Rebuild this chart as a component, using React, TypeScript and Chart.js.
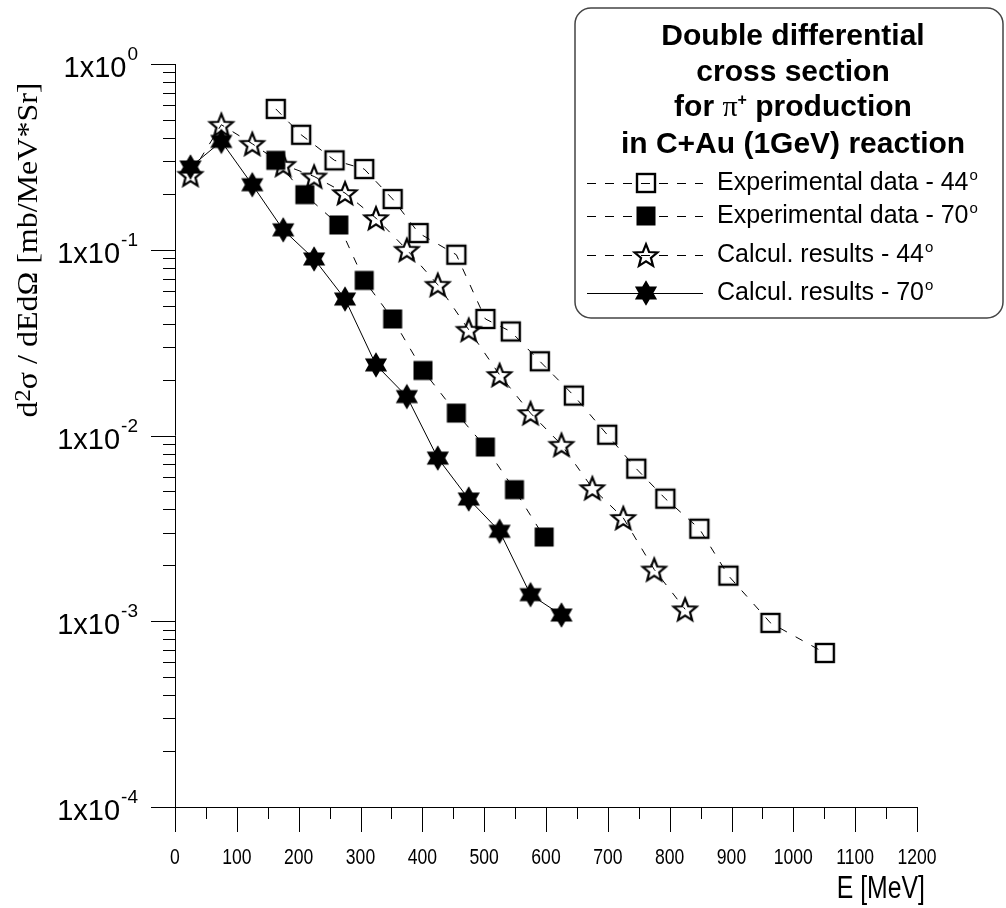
import React, { useEffect, useRef } from 'react';
import { Chart, registerables } from 'chart.js';
Chart.register(...registerables);

// ---------- data ----------
const exp44E = [163, 204, 258, 306, 352, 394, 455, 502, 543, 590, 645, 699, 746, 793, 848, 895, 963, 1051];
const exp44V = [0.573, 0.416, 0.303, 0.272, 0.1875, 0.123, 0.094, 0.0424, 0.0363, 0.0251, 0.0164, 0.0101, 0.00663, 0.00457, 0.00315, 0.00176, 0.00098, 0.000675];
const exp70E = [163, 210, 265, 306, 352, 401, 455, 502, 549, 597];
const exp70V = [0.303, 0.198, 0.136, 0.0684, 0.0424, 0.0224, 0.0132, 0.00867, 0.00511, 0.00284];
const calc44E = [25, 75, 125, 175, 225, 275, 325, 375, 425, 475, 525, 575, 625, 675, 725, 775, 825];
const calc44V = [0.2535, 0.471, 0.372, 0.287, 0.248, 0.202, 0.148, 0.1, 0.0648, 0.0371, 0.0212, 0.0132, 0.00892, 0.00521, 0.0036, 0.0019, 0.00116];
const calc70E = [25, 75, 125, 175, 225, 275, 325, 375, 425, 475, 525, 575, 625];
const calc70V = [0.279, 0.383, 0.224, 0.128, 0.0892, 0.0543, 0.024, 0.0162, 0.00756, 0.00455, 0.00305, 0.00139, 0.00108];

const seriesNames = ['Experimental data - 44', 'Experimental data - 70', 'Calcul. results - 44', 'Calcul. results - 70'];
const titleLines = ['Double differential', 'cross section', 'for π+ production', 'in C+Au (1GeV) reaction'];

const xMajorTicks = [0, 100, 200, 300, 400, 500, 600, 700, 800, 900, 1000, 1100, 1200];
const xMinorTicks = [50, 150, 250, 350, 450, 550, 650, 750, 850, 950, 1050, 1150];
const yDecadeExps = [0, -1, -2, -3, -4];
const yMinorMults = [2, 3, 4, 5, 6, 7, 8, 9];
const xTitle = 'E [MeV]';

const SANS = '"Liberation Sans", Arial, Helvetica, sans-serif';
const SERIF = '"Liberation Serif", "Times New Roman", serif';

function makeCanvas(size: number, draw: (c: CanvasRenderingContext2D, m: number) => void) {
  const cv = document.createElement('canvas');
  cv.width = size;
  cv.height = size;
  const c = cv.getContext('2d')!;
  draw(c, size / 2);
  return cv;
}

function starPath(c: CanvasRenderingContext2D, cx: number, cy: number, n: number, R: number, r: number) {
  c.beginPath();
  for (let i = 0; i < 2 * n; i++) {
    const a = -Math.PI / 2 + (i * Math.PI) / n;
    const rr = i % 2 === 0 ? R : r;
    const px = cx + rr * Math.cos(a);
    const py = cy + rr * Math.sin(a);
    if (i === 0) c.moveTo(px, py);
    else c.lineTo(px, py);
  }
  c.closePath();
}

function makeMarkers() {
  const openSquare = makeCanvas(24, (c, m) => {
    c.strokeStyle = '#000';
    c.lineWidth = 2.4;
    c.strokeRect(m - 9, m - 9, 18, 18);
  });
  const filledSquare = makeCanvas(24, (c, m) => {
    c.fillStyle = '#000';
    c.fillRect(m - 9.5, m - 9.5, 19, 19);
  });
  const openStar = makeCanvas(30, (c, m) => {
    starPath(c, m, m + 1.2, 5, 12, 5.2);
    c.strokeStyle = '#000';
    c.lineWidth = 2.2;
    c.lineJoin = 'miter';
    c.stroke();
  });
  const filledHex = makeCanvas(30, (c, m) => {
    starPath(c, m, m, 6, 12.8, 7.4);
    c.fillStyle = '#000';
    c.fill();
  });
  return { openSquare, filledSquare, openStar, filledHex };
}

function txt(ctx: CanvasRenderingContext2D, s: string, x: number, y: number, font: string, align: CanvasTextAlign, sx = 1) {
  ctx.save();
  ctx.font = font;
  ctx.textBaseline = 'middle';
  ctx.textAlign = align;
  ctx.fillStyle = '#000';
  ctx.translate(x, y);
  ctx.scale(sx, 1);
  ctx.fillText(s, 0, 0);
  ctx.restore();
}

export default function App() {
  const ref = useRef<HTMLCanvasElement | null>(null);

  useEffect(() => {
    document.body.style.margin = '0';
    const canvas = ref.current!;
    const mk = makeMarkers();
    const markerList = [mk.openSquare, mk.filledSquare, mk.openStar, mk.filledHex];
    const dashList = [[8, 10], [8, 10], [8, 10], []];

    const decoPlugin = {
      id: 'deco',
      afterDraw(chart: any) {
        const ctx: CanvasRenderingContext2D = chart.ctx;
        const xs = chart.scales.x;
        const ys = chart.scales.y;
        const area = chart.chartArea;
        ctx.save();
        ctx.strokeStyle = '#000';
        ctx.lineWidth = 1;
        // axes lines
        ctx.beginPath();
        ctx.moveTo(area.left + 0.5, area.top);
        ctx.lineTo(area.left + 0.5, area.bottom);
        ctx.moveTo(area.left, area.bottom + 0.5);
        ctx.lineTo(area.right, area.bottom + 0.5);
        ctx.stroke();
        // x ticks
        ctx.beginPath();
        xMajorTicks.forEach((v) => {
          const px = Math.round(xs.getPixelForValue(v)) + 0.5;
          ctx.moveTo(px, area.bottom);
          ctx.lineTo(px, area.bottom + 25);
        });
        xMinorTicks.forEach((v) => {
          const px = Math.round(xs.getPixelForValue(v)) + 0.5;
          ctx.moveTo(px, area.bottom);
          ctx.lineTo(px, area.bottom + 12);
        });
        // y ticks
        yDecadeExps.forEach((e) => {
          const py = Math.round(ys.getPixelForValue(Math.pow(10, e))) + 0.5;
          ctx.moveTo(area.left - 24, py);
          ctx.lineTo(area.left, py);
          if (e < 0) {
            yMinorMults.forEach((m) => {
              const pm = Math.round(ys.getPixelForValue(m * Math.pow(10, e))) + 0.5;
              ctx.moveTo(area.left - 12, pm);
              ctx.lineTo(area.left, pm);
            });
          }
        });
        ctx.stroke();

        // x tick labels
        xMajorTicks.forEach((v) => {
          txt(ctx, String(v), xs.getPixelForValue(v), area.bottom + 51, '22px ' + SANS, 'center', 0.8);
        });
        // x title
        txt(ctx, xTitle, 925, 889, '31px ' + SANS, 'right', 0.8);

        // y tick labels
        yDecadeExps.forEach((e) => {
          const py = ys.getPixelForValue(Math.pow(10, e));
          const es = String(e);
          ctx.font = '19px ' + SANS;
          const sw = ctx.measureText(es).width;
          const right = 138;
          txt(ctx, es, right - sw, py - 9, '19px ' + SANS, 'left');
          txt(ctx, '1x10', right - sw - 1, py + 5, '29px ' + SANS, 'right');
        });

        // y title (rotated)
        ctx.save();
        ctx.translate(29, 250);
        ctx.rotate(-Math.PI / 2);
        const segs = [
          { s: 'd', f: '30px ' + SERIF, dy: 0 },
          { s: '2', f: '23px ' + SERIF, dy: -5 },
          { s: 'σ / dEdΩ [mb/MeV*Sr]', f: '30px ' + SERIF, dy: 0 },
        ];
        let tw = 0;
        segs.forEach((g) => { ctx.font = g.f; tw += ctx.measureText(g.s).width; });
        const target = 335;
        const sx = target / tw;
        ctx.scale(sx, 1);
        let cx = -tw / 2;
        ctx.fillStyle = '#000';
        ctx.textBaseline = 'middle';
        ctx.textAlign = 'left';
        segs.forEach((g) => {
          ctx.font = g.f;
          ctx.fillText(g.s, cx, g.dy);
          cx += ctx.measureText(g.s).width;
        });
        ctx.restore();

        // legend box
        const L = 575, T = 8, R = 1003, B = 318, rad = 16;
        ctx.beginPath();
        ctx.moveTo(L + rad, T);
        ctx.lineTo(R - rad, T);
        ctx.arcTo(R, T, R, T + rad, rad);
        ctx.lineTo(R, B - rad);
        ctx.arcTo(R, B, R - rad, B, rad);
        ctx.lineTo(L + rad, B);
        ctx.arcTo(L, B, L, B - rad, rad);
        ctx.lineTo(L, T + rad);
        ctx.arcTo(L, T, L + rad, T, rad);
        ctx.closePath();
        ctx.fillStyle = '#fff';
        ctx.fill();
        ctx.strokeStyle = '#444';
        ctx.lineWidth = 1.5;
        ctx.stroke();

        const cxT = 793;
        const bold = 'bold 30px ' + SANS;
        txt(ctx, titleLines[0], cxT, 37, bold, 'center');
        txt(ctx, titleLines[1], cxT, 73, bold, 'center');
        // line 3 with serif pi and superscript plus
        {
          const parts = [
            { s: 'for ', f: bold, dy: 0 },
            { s: 'π', f: '30px ' + SERIF, dy: 0 },
            { s: '+', f: 'bold 16px ' + SANS, dy: -7 },
            { s: ' production', f: bold, dy: 0 },
          ];
          let w = 0;
          parts.forEach((p) => { ctx.font = p.f; w += ctx.measureText(p.s).width; });
          let x0 = cxT - w / 2;
          parts.forEach((p) => {
            txt(ctx, p.s, x0, 108 + p.dy, p.f, 'left');
            ctx.font = p.f;
            x0 += ctx.measureText(p.s).width;
          });
        }
        txt(ctx, titleLines[3], cxT, 145, bold, 'center');

        const rowsY = [183, 216, 255, 293];
        const deg = ['44', '70', '44', '70'];
        seriesNames.forEach((name, i) => {
          const y = rowsY[i];
          ctx.save();
          ctx.strokeStyle = '#000';
          ctx.lineWidth = 1;
          ctx.setLineDash(i === 3 ? [] : [9, 9]);
          ctx.beginPath();
          ctx.moveTo(587, y + 0.5);
          ctx.lineTo(703, y + 0.5);
          ctx.stroke();
          ctx.restore();
          const m = markerList[i];
          ctx.drawImage(m, 646 - m.width / 2, y - m.height / 2);
          const base = name.replace(/\d+$/, '');
          const f = '25px ' + SANS;
          ctx.font = f;
          const full = base + deg[i];
          txt(ctx, full, 717, y, f, 'left');
          const w = ctx.measureText(full).width;
          txt(ctx, 'o', 717 + w + 1, y - 7, '15px ' + SANS, 'left');
        });
        ctx.restore();
      },
    };

    const mkData = (E: number[], V: number[]) => E.map((e, i) => ({ x: e, y: V[i] }));
    const sets = [
      mkData(exp44E, exp44V),
      mkData(exp70E, exp70V),
      mkData(calc44E, calc44V),
      mkData(calc70E, calc70V),
    ];

    const chart = new Chart(canvas, {
      type: 'line',
      data: {
        datasets: sets.map((d, i) => ({
          label: seriesNames[i],
          data: d,
          borderColor: '#000',
          borderWidth: 1,
          borderDash: dashList[i],
          pointStyle: markerList[i] as any,
          pointRadius: 8,
          pointHoverRadius: 8,
          backgroundColor: 'rgba(0,0,0,0)',
          tension: 0,
          fill: false,
        })),
      },
      options: {
        responsive: false,
        animation: false,
        events: [],
        layout: { padding: { left: 175, right: 89, top: 64, bottom: 101 } },
        plugins: { legend: { display: false }, tooltip: { enabled: false }, title: { display: false } },
        scales: {
          x: { type: 'linear', min: 0, max: 1200, display: false },
          y: { type: 'logarithmic', min: 1e-4, max: 1, display: false },
        },
      },
      plugins: [decoPlugin],
    });
    return () => chart.destroy();
  }, []);

  return (
    <div style={{ width: 1006, height: 908, background: '#fff' }}>
      <canvas ref={ref} width={1006} height={908} style={{ display: 'block' }} />
    </div>
  );
}
